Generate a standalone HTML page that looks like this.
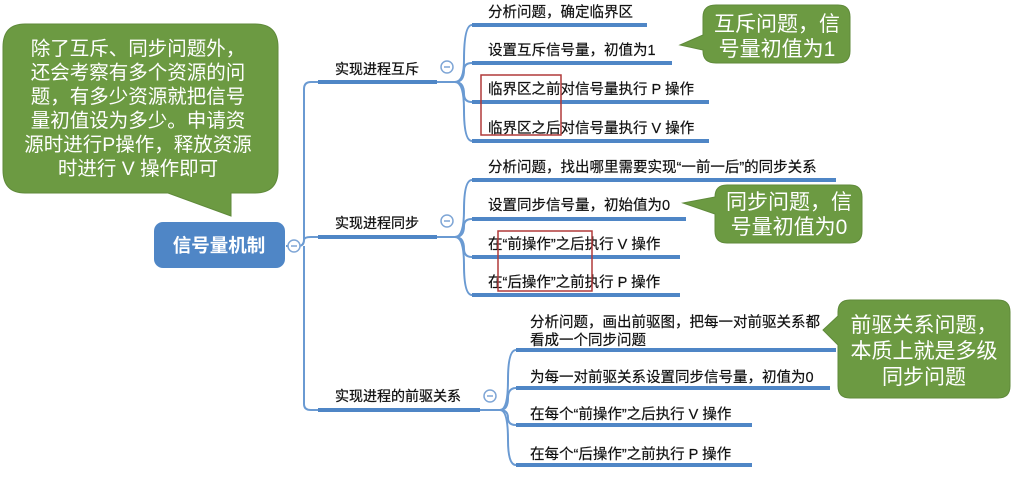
<!DOCTYPE html>
<html><head><meta charset="utf-8"><style>
html,body{margin:0;padding:0;background:#fff;}
svg text{font-family:"Liberation Sans","Noto Sans CJK SC",sans-serif;}
</style></head><body>
<svg width="1024" height="473" viewBox="0 0 1024 473" xmlns="http://www.w3.org/2000/svg">
<g fill="none" stroke="#6a9ad2" stroke-width="2">
<path d="M286,246 H298 Q304,246 304,240 V89 Q304,82 311,82 H318"/>
<path d="M304,240 Q304,237 311,237 H318"/>
<path d="M304,246 V404 Q304,410 311,410 H318"/>
<path d="M437,82 H455 Q464,82 464,60 Q464,25 472,25"/>
<path d="M455,82 Q464,82 464,70 Q464,63 472,63"/>
<path d="M455,82 Q464,82 464,94 Q464,102 472,102"/>
<path d="M455,82 Q464,82 464,110 Q464,141 472,141"/>
<path d="M437,237 H455 Q464,237 464,210 Q464,180 472,180"/>
<path d="M455,237 Q464,237 464,226 Q464,219 472,219"/>
<path d="M455,237 Q464,237 464,249 Q464,257 472,257"/>
<path d="M455,237 Q464,237 464,265 Q464,295 472,295"/>
<path d="M480,410 H500 Q508,410 508,380 Q508,350 516,350"/>
<path d="M500,410 Q508,410 508,398 Q508,388 516,388"/>
<path d="M500,410 Q508,410 508,418 Q508,425 516,425"/>
<path d="M500,410 Q508,410 508,440 Q508,465 516,465"/>
</g>
<g stroke="#4f86c6" stroke-width="4" fill="none">
<line x1="318" y1="82" x2="437" y2="82"/><line x1="318" y1="237" x2="437" y2="237"/><line x1="318" y1="410" x2="480" y2="410"/>
<line x1="472" y1="25" x2="647" y2="25"/><line x1="472" y1="63" x2="672" y2="63"/><line x1="472" y1="102" x2="709" y2="102"/><line x1="472" y1="141" x2="709" y2="141"/>
<line x1="472" y1="180" x2="836" y2="180"/><line x1="472" y1="219" x2="686" y2="219"/><line x1="472" y1="257" x2="680" y2="257"/><line x1="472" y1="295" x2="680" y2="295"/>
<line x1="516" y1="350" x2="836" y2="350"/><line x1="516" y1="388" x2="830" y2="388"/><line x1="516" y1="425" x2="752" y2="425"/><line x1="516" y1="465" x2="752" y2="465"/>
</g>
<g fill="#fff" stroke="#7fa6d6" stroke-width="1.5">
<circle cx="294" cy="246" r="6"/><circle cx="447" cy="67" r="6"/><circle cx="447" cy="221" r="6"/><circle cx="490" cy="396" r="6"/>
</g>
<g stroke="#7fa6d6" stroke-width="1.5">
<line x1="291" y1="246" x2="297" y2="246"/><line x1="444" y1="67" x2="450" y2="67"/><line x1="444" y1="221" x2="450" y2="221"/><line x1="487" y1="396" x2="493" y2="396"/>
</g>
<rect x="154" y="222" width="131" height="46" rx="9" fill="#4f86c6"/>
<text x="219" y="252" font-size="18.5" font-weight="bold" fill="#fff" text-anchor="middle">信号量机制</text>
<g font-size="14" fill="#111" stroke="#111" stroke-width="0.25">
<text x="335" y="74">实现进程互斥</text>
<text x="335" y="228">实现进程同步</text>
<text x="335" y="401">实现进程的前驱关系</text>
</g>
<g font-size="14.5" fill="#111" stroke="#111" stroke-width="0.2">
<text x="488" y="17">分析问题，确定临界区</text>
<text x="488" y="55">设置互斥信号量，初值为1</text>
<text x="488" y="94">临界区之前对信号量执行 P 操作</text>
<text x="488" y="133">临界区之后对信号量执行 V 操作</text>
<text x="488" y="172">分析问题，找出哪里需要实现“一前一后”的同步关系</text>
<text x="488" y="210">设置同步信号量，初始值为0</text>
<text x="488" y="249">在“前操作”之后执行 V 操作</text>
<text x="488" y="287">在“后操作”之前执行 P 操作</text>
<text x="530" y="327">分析问题，画出前驱图，把每一对前驱关系都</text>
<text x="530" y="345">看成一个同步问题</text>
<text x="530" y="382">为每一对前驱关系设置同步信号量，初值为0</text>
<text x="530" y="419">在每个“前操作”之后执行 V 操作</text>
<text x="530" y="459">在每个“后操作”之前执行 P 操作</text>
</g>
<g fill="none" stroke="#b03a3a" stroke-width="1.5">
<rect x="481" y="75" width="80" height="60"/><rect x="498" y="231" width="94" height="60"/>
</g>
<g fill="#6c9a42" stroke="#5f8a3a" stroke-width="1">
<path d="M25,24 H255 Q278,24 278,47 V170 Q278,193 255,193 H231 V216 L168,193 H25 Q3,193 3,170 V47 Q3,24 25,24 Z"/>
<path d="M716,5 H838 Q850,5 850,17 V51 Q850,63 838,63 H716 Q703,63 703,51 V50 L680,45 L703,35 V17 Q703,5 716,5 Z"/>
<path d="M727,185 H850 Q862,185 862,197 V231 Q862,243 850,243 H727 Q715,243 715,231 V214 L683,203 L715,197 Q715,185 727,185 Z"/>
<path d="M850,300 H998 Q1010,300 1010,312 V386 Q1010,398 998,398 H850 Q838,398 838,386 V345 L823,330 L838,316 V312 Q838,300 850,300 Z"/>
</g>
<g fill="#fff" font-size="19.5" text-anchor="middle">
<text x="138" y="55">除了互斥、同步问题外，</text>
<text x="138" y="79">还会考察有多个资源的问</text>
<text x="138" y="103">题，有多少资源就把信号</text>
<text x="138" y="127">量初值设为多少。申请资</text>
<text x="138" y="151">源时进行P操作，释放资源</text>
<text x="138" y="175">时进行 V 操作即可</text>
</g>
<g fill="#fff" font-size="21" text-anchor="middle">
<text x="777" y="31">互斥问题，信</text>
<text x="777" y="56">号量初值为1</text>
<text x="789" y="209">同步问题，信</text>
<text x="789" y="234">号量初值为0</text>
<text x="924" y="332">前驱关系问题，</text>
<text x="924" y="358">本质上就是多级</text>
<text x="924" y="384">同步问题</text>
</g>
</svg>
</body></html>
